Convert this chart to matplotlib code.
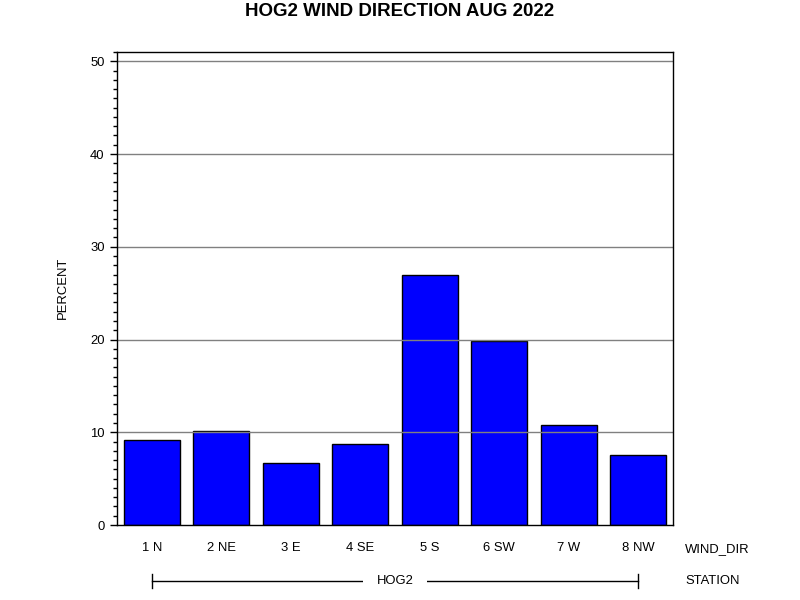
import matplotlib
matplotlib.use('Agg')
import matplotlib.pyplot as plt
from matplotlib.ticker import MultipleLocator
import matplotlib.transforms as mtransforms

plt.rcParams['font.family'] = ['Liberation Sans', 'DejaVu Sans']

# data
wind_dir = ['1 N', '2 NE', '3 E', '4 SE', '5 S', '6 SW', '7 W', '8 NW']
percent = [9.13, 10.16, 6.65, 8.69, 27.0, 19.8, 10.74, 7.5]
station = 'HOG2'

fs = 9.4

fig = plt.figure(figsize=(8, 6), dpi=100)
ax = fig.add_axes([117 / 800, 75 / 600, 556 / 800, 473 / 600])

x = list(range(len(wind_dir)))
ax.bar(x, percent, width=0.81, color='#0000ff', edgecolor='black', linewidth=1, zorder=2)

ax.set_xlim(-0.5, len(wind_dir) - 0.5)
ax.set_ylim(0, 51)
ax.yaxis.set_major_locator(MultipleLocator(10))
ax.yaxis.set_minor_locator(MultipleLocator(1))
# reference draws the reference lines on top of the bars
for yv in range(10, 51, 10):
    ax.axhline(yv, color='gray', linewidth=1, zorder=3)

ax.set_xticks(x)
ax.set_xticklabels(wind_dir)
ax.tick_params(axis='x', length=0, pad=12, labelsize=fs)
ax.tick_params(axis='y', which='major', length=5, width=1, pad=4, labelsize=fs)
ax.tick_params(axis='y', which='minor', length=3, width=1)
for s in ax.spines.values():
    s.set_linewidth(1)
    s.set_zorder(4)

fig.text(0.5, 1 - 12 / 600, 'HOG2 WIND DIRECTION AUG 2022', ha='center', va='center',
         fontsize=13.5, fontweight='bold')
fig.text(63 / 800, 1 - 288 / 600, 'PERCENT', rotation=90, ha='center', va='center', fontsize=fs)
fig.text(685 / 800, 1 - 549 / 600, 'WIND_DIR', ha='left', va='center', fontsize=fs)
fig.text(685 / 800, 1 - 581 / 600, 'STATION', ha='left', va='center', fontsize=fs)

# station group bracket under the categories
trans = mtransforms.blended_transform_factory(ax.transData, ax.transAxes)
yline = (525 - 581) / 473
ycap = 7 / 473
ax.plot([x[0], x[-1]], [yline, yline], color='black', lw=1, transform=trans, clip_on=False)
ax.plot([x[0], x[0]], [yline - ycap, yline + ycap], color='black', lw=1, transform=trans, clip_on=False)
ax.plot([x[-1], x[-1]], [yline - ycap, yline + ycap], color='black', lw=1, transform=trans, clip_on=False)
ax.text((x[0] + x[-1]) / 2, yline, station, transform=trans, ha='center', va='center', fontsize=fs,
        bbox=dict(facecolor='white', edgecolor='none', pad=10))

fig.savefig('out.png', dpi=100)
